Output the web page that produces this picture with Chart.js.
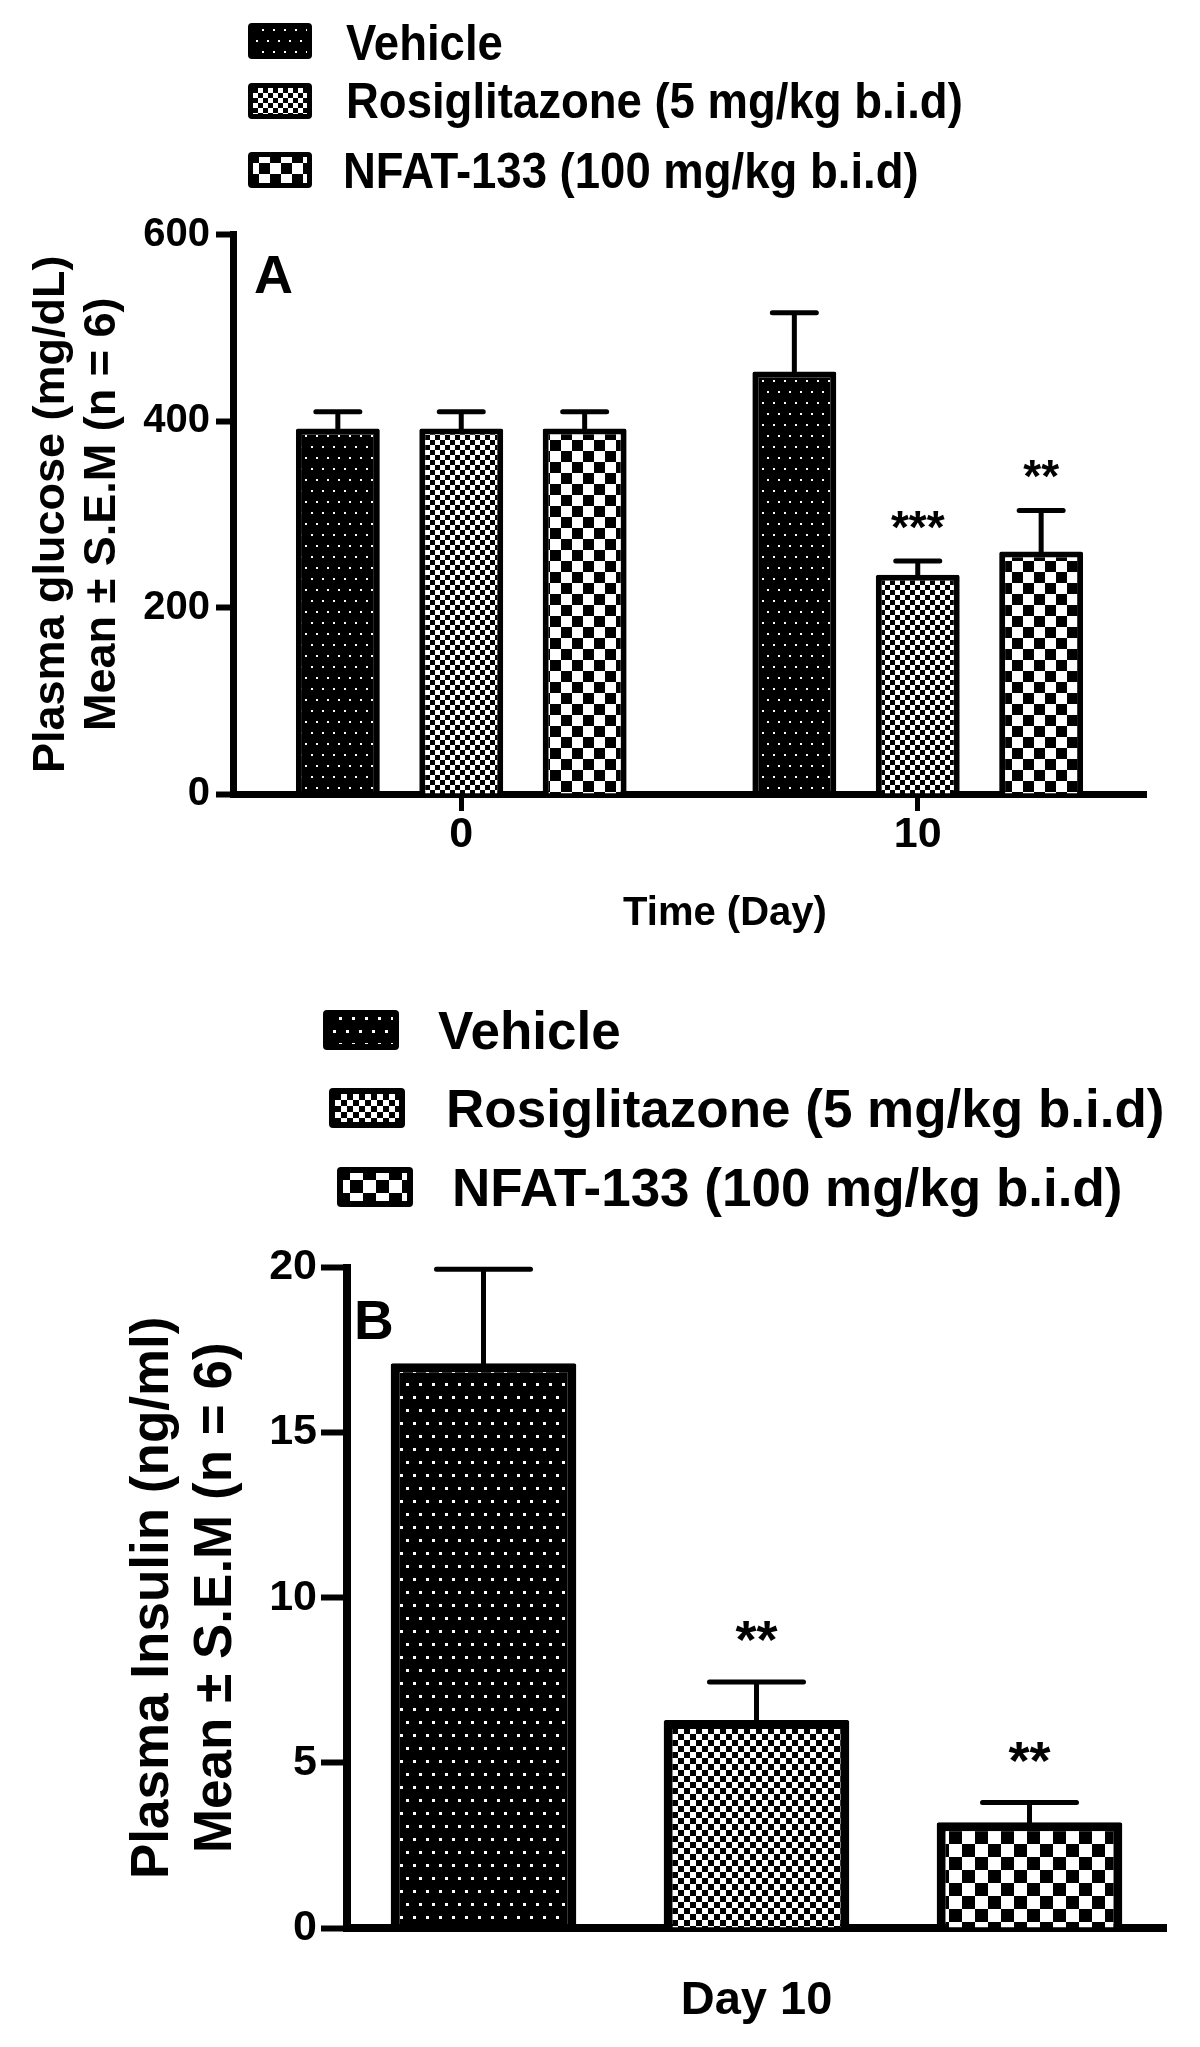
<!DOCTYPE html>
<html lang="en">
<head>
<meta charset="UTF-8">
<title>Plasma glucose and insulin</title>
<script src="https://cdn.jsdelivr.net/npm/chart.js"></script>
<style>
    body {
        margin: 0;
        background: #fff;
    }

    #page {
        position: relative;
        width: 1200px;
        height: 2047px;
        overflow: hidden;
        background: #fff;
        color: #000;
        font-family: 'Liberation Sans', Arial, sans-serif;
        font-weight: bold;
    }

    #page canvas.chart {
        position: absolute;
        left: 0;
    }

    .swatch {
        position: absolute;
    }

    .legend-text {
        position: absolute;
        white-space: nowrap;
        line-height: 1;
        transform-origin: 0 0;
    }
</style>
</head>
<body>
<div id="page">
    <canvas id="chartA" class="chart" width="1200" height="960" style="top:0"></canvas>
    <canvas id="chartB" class="chart" width="1200" height="1087" style="top:960px"></canvas>
</div>

<script>
    // ---- data ----
    const groups = ['Vehicle', 'Rosiglitazone (5 mg/kg b.i.d)', 'NFAT-133 (100 mg/kg b.i.d)'];

    // panel A: plasma glucose, days 0 and 10
    const days = ['0', '10'];
    const glucoseVehicle = [392, 453];
    const glucoseRosi = [392, 235];
    const glucoseNfat = [392, 260];
    const glucoseVehicleSem = [18, 63];
    const glucoseRosiSem = [18, 15];
    const glucoseNfatSem = [18, 44];
    const glucoseVehicleStars = ['', ''];
    const glucoseRosiStars = ['', '***'];
    const glucoseNfatStars = ['', '**'];
    const glucoseTicks = [0, 200, 400, 600];

    // panel B: plasma insulin, day 10
    const insulinDay = ['Day 10'];
    const insulinVehicle = [17.1];
    const insulinRosi = [6.3];
    const insulinNfat = [3.2];
    const insulinVehicleSem = [2.85];
    const insulinRosiSem = [1.15];
    const insulinNfatSem = [0.6];
    const insulinVehicleStars = [''];
    const insulinRosiStars = ['**'];
    const insulinNfatStars = ['**'];
    const insulinTicks = [0, 5, 10, 15, 20];

    const FONT = "'Liberation Sans', Arial, sans-serif";
    const NARROW = "'Liberation Sans Narrow', 'Liberation Sans', Arial, sans-serif";

    // ---- fill patterns ----
    function dotTile(step, dot) {
        const c = document.createElement('canvas');
        c.width = step;
        c.height = step * 2;
        const g = c.getContext('2d');
        g.fillStyle = '#000';
        g.fillRect(0, 0, c.width, c.height);
        g.fillStyle = '#fff';
        g.fillRect(Math.round(step * 0.25), Math.round(step * 0.5), dot, dot);
        g.fillRect(Math.round(step * 0.75), Math.round(step * 1.5), dot, dot);
        return c;
    }

    function checkerTile(cell) {
        const c = document.createElement('canvas');
        c.width = c.height = cell * 2;
        const g = c.getContext('2d');
        g.fillStyle = '#fff';
        g.fillRect(0, 0, c.width, c.height);
        g.fillStyle = '#000';
        g.fillRect(0, 0, cell, cell);
        g.fillRect(cell, cell, cell, cell);
        return c;
    }

    const tilesA = [dotTile(11, 2), checkerTile(5), checkerTile(11)];
    const tilesB = [dotTile(13, 3), checkerTile(6), checkerTile(13)];

    function patterns(ctx, tiles) {
        return tiles.map(t => ctx.createPattern(t, 'repeat'));
    }

    // ---- legends (html) ----
    function buildLegend(L, tiles) {
        const page = document.getElementById('page');
        groups.forEach((name, i) => {
            const cv = document.createElement('canvas');
            cv.className = 'swatch';
            cv.width = L.sw;
            cv.height = L.sh;
            cv.style.left = L.swatchX[i] + 'px';
            cv.style.top = L.swatchY[i] + 'px';
            const g = cv.getContext('2d');
            g.fillStyle = '#000';
            g.beginPath();
            g.roundRect(0, 0, L.sw, L.sh, 4);
            g.fill();
            g.fillStyle = g.createPattern(tiles[i], 'repeat');
            g.fillRect(L.border, L.border, L.sw - 2 * L.border, L.sh - 2 * L.border);
            page.appendChild(cv);

            const t = document.createElement('div');
            t.className = 'legend-text';
            t.textContent = name;
            t.style.left = L.textX[i] + 'px';
            t.style.top = L.textTop[i] + 'px';
            t.style.fontSize = L.size + 'px';
            t.style.transform = 'scaleX(' + L.squeeze + ')';
            page.appendChild(t);
        });
    }

    buildLegend({
        swatchX: [248, 248, 248], swatchY: [23, 83, 152], sw: 64, sh: 36, border: 5,
        textX: [346, 346, 343], textTop: [17.6, 75.6, 145.6], size: 50, squeeze: 0.91
    }, tilesA);

    buildLegend({
        swatchX: [323, 329, 337], swatchY: [1010, 1088, 1167], sw: 76, sh: 40, border: 6,
        textX: [438, 446, 452], textTop: [1004, 1082, 1161], size: 53, squeeze: 1
    }, tilesB);

    // ---- plugins ----
    const errorBars = {
        id: 'errorBars',
        afterDatasetsDraw(chart, args, o) {
            const ctx = chart.ctx;
            const y = chart.scales.y;
            ctx.save();
            ctx.strokeStyle = '#000';
            ctx.fillStyle = '#000';
            ctx.lineWidth = o.lineWidth;
            ctx.lineCap = 'round';
            ctx.textAlign = 'center';
            ctx.textBaseline = 'alphabetic';
            ctx.font = 'bold ' + o.starSize + 'px ' + FONT;
            chart.data.datasets.forEach((ds, i) => {
                chart.getDatasetMeta(i).data.forEach((bar, j) => {
                    const top = y.getPixelForValue(ds.data[j] + ds.sem[j]);
                    ctx.beginPath();
                    ctx.moveTo(bar.x, bar.y);
                    ctx.lineTo(bar.x, top);
                    ctx.moveTo(bar.x - o.cap / 2, top);
                    ctx.lineTo(bar.x + o.cap / 2, top);
                    ctx.stroke();
                    const star = ds.stars[j];
                    if (star) {
                        ctx.fillText(star, bar.x, top - o.starGap + 0.56 * o.starSize);
                    }
                });
            });
            ctx.restore();
        }
    };

    const panelText = {
        id: 'panelText',
        afterDraw(chart, args, o) {
            const {ctx, chartArea} = chart;
            ctx.save();
            ctx.fillStyle = '#000';
            ctx.textBaseline = 'alphabetic';
            ctx.textAlign = 'left';
            ctx.font = 'bold ' + o.letterSize + 'px ' + FONT;
            ctx.fillText(o.letter, chartArea.left + o.letterDx, chartArea.top + o.letterDy);
            if (o.caption) {
                ctx.textAlign = 'center';
                ctx.font = 'bold ' + o.captionSize + 'px ' + FONT;
                ctx.fillText(o.caption, chartArea.left + o.captionDx, chartArea.bottom + o.captionDy);
            }
            ctx.restore();
        }
    };

    function barSet(name, data, sem, stars, fill, border) {
        return {
            label: name,
            data: data,
            sem: sem,
            stars: stars,
            backgroundColor: fill,
            borderColor: '#000',
            borderWidth: border,
            borderRadius: 2
        };
    }

    // ---- panel A ----
    const ctxA = document.getElementById('chartA').getContext('2d');
    const patA = patterns(ctxA, tilesA);

    new Chart(ctxA, {
        type: 'bar',
        data: {
            labels: days,
            datasets: [
                barSet(groups[0], glucoseVehicle, glucoseVehicleSem, glucoseVehicleStars, patA[0], 6),
                barSet(groups[1], glucoseRosi, glucoseRosiSem, glucoseRosiStars, patA[1], 6),
                barSet(groups[2], glucoseNfat, glucoseNfatSem, glucoseNfatStars, patA[2], 6)
            ]
        },
        options: {
            responsive: false,
            animation: false,
            layout: { padding: { top: 234.5, right: 54, bottom: 0, left: 0 } },
            datasets: { bar: { categoryPercentage: 0.811, barPercentage: 0.68 } },
            plugins: {
                legend: { display: false },
                tooltip: { enabled: false },
                errorBars: { lineWidth: 5, cap: 44, starSize: 46, starGap: 44 },
                panelText: { letter: 'A', letterSize: 54, letterDx: 21, letterDy: 58.5,
                             caption: 'Time (Day)', captionSize: 40, captionDx: 492, captionDy: 131 }
            },
            scales: {
                x: {
                    z: 1,
                    grid: { offset: false, drawOnChartArea: false, tickLength: 17, tickWidth: 5, tickColor: '#000' },
                    border: { display: true, color: '#000', width: 7 },
                    ticks: { color: '#000', padding: 3, font: { family: NARROW, size: 43, weight: 'bold', lineHeight: 1 } },
                    afterFit: s => { s.height = 166; }
                },
                y: {
                    min: 0,
                    max: 600,
                    afterBuildTicks: s => { s.ticks = glucoseTicks.map(v => ({ value: v })); },
                    grid: { drawOnChartArea: false, tickLength: 17, tickWidth: 6, tickColor: '#000' },
                    border: { display: true, color: '#000', width: 7 },
                    ticks: { color: '#000', padding: 6, font: { family: FONT, size: 40, weight: 'bold' } },
                    title: {
                        display: true,
                        text: ['Plasma glucose (mg/dL)', 'Mean \u00b1 S.E.M (n = 6)'],
                        color: '#000',
                        padding: { top: 26.5, bottom: 0 },
                        font: { family: FONT, size: 45, weight: 'bold', lineHeight: 1.133 }
                    },
                    afterFit: s => { s.width = 233; }
                }
            }
        },
        plugins: [errorBars, panelText]
    });

    // ---- panel B ----
    const ctxB = document.getElementById('chartB').getContext('2d');
    const patB = patterns(ctxB, tilesB);

    new Chart(ctxB, {
        type: 'bar',
        data: {
            labels: insulinDay,
            datasets: [
                barSet(groups[0], insulinVehicle, insulinVehicleSem, insulinVehicleStars, patB[0], 9),
                barSet(groups[1], insulinRosi, insulinRosiSem, insulinRosiStars, patB[1], 9),
                barSet(groups[2], insulinNfat, insulinNfatSem, insulinNfatStars, patB[2], 9)
            ]
        },
        options: {
            responsive: false,
            animation: false,
            layout: { padding: { top: 307.5, right: 34, bottom: 0, left: 0 } },
            datasets: { bar: { categoryPercentage: 1.0, barPercentage: 0.68 } },
            plugins: {
                legend: { display: false },
                tooltip: { enabled: false },
                errorBars: { lineWidth: 5, cap: 94, starSize: 54, starGap: 54 },
                panelText: { letter: 'B', letterSize: 55, letterDx: 7, letterDy: 71.5 }
            },
            scales: {
                x: {
                    z: 1,
                    grid: { offset: false, drawOnChartArea: false, drawTicks: false },
                    border: { display: true, color: '#000', width: 8 },
                    ticks: { color: '#000', padding: 49.5, font: { family: FONT, size: 47, weight: 'bold', lineHeight: 1 } },
                    afterFit: s => { s.height = 119; }
                },
                y: {
                    min: 0,
                    max: 20,
                    afterBuildTicks: s => { s.ticks = insulinTicks.map(v => ({ value: v })); },
                    grid: { drawOnChartArea: false, tickLength: 26, tickWidth: 6, tickColor: '#000' },
                    border: { display: true, color: '#000', width: 8 },
                    ticks: { color: '#000', padding: 4, font: { family: FONT, size: 43, weight: 'bold' } },
                    title: {
                        display: true,
                        text: ['Plasma Insulin (ng/ml)', 'Mean \u00b1 S.E.M (n = 6)'],
                        color: '#000',
                        padding: { top: 121.5, bottom: 0 },
                        font: { family: FONT, size: 53, weight: 'bold', lineHeight: 1.19 }
                    },
                    afterFit: s => { s.width = 347; }
                }
            }
        },
        plugins: [errorBars, panelText]
    });
</script>
</body>
</html>
